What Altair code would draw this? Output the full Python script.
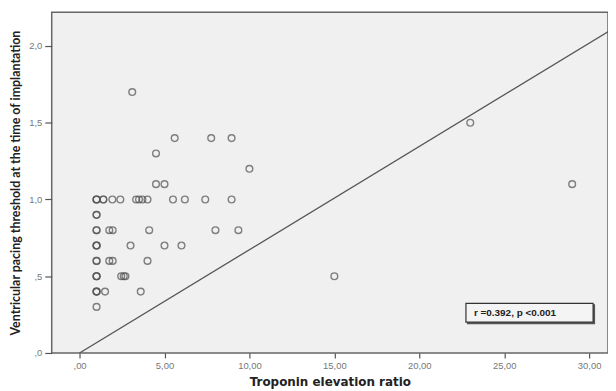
import altair as alt
import pandas as pd

# Troponin elevation ratio (x) and ventricular pacing threshold (y)
x_vals = [1.0, 1.0, 1.0, 1.0, 1.0, 1.0, 1.0, 1.0, 1.0, 1.0, 1.0, 1.0, 1.0, 1.0, 1.0, 1.0, 1.0, 1.0, 1.0,
          1.4, 1.4, 1.93, 2.4, 3.33, 3.5, 3.7, 4.0, 5.5, 6.2, 7.4, 8.95,
          1.75, 1.95, 4.1, 8.0, 9.35,
          3.0, 5.0, 6.0,
          1.75, 1.95, 4.0,
          2.45, 2.6, 2.7, 15.0,
          1.5, 3.6,
          4.5, 5.0, 4.5, 3.1,
          5.6, 7.75, 8.95, 10.0,
          23.0, 29.0]
y_vals = [1.0, 1.0, 1.0, 0.9, 0.9, 0.8, 0.8, 0.7, 0.7, 0.7, 0.6, 0.6, 0.5, 0.5, 0.5, 0.4, 0.4, 0.4, 0.3,
          1.0, 1.0, 1.0, 1.0, 1.0, 1.0, 1.0, 1.0, 1.0, 1.0, 1.0, 1.0,
          0.8, 0.8, 0.8, 0.8, 0.8,
          0.7, 0.7, 0.7,
          0.6, 0.6, 0.6,
          0.5, 0.5, 0.5, 0.5,
          0.4, 0.4,
          1.1, 1.1, 1.3, 1.7,
          1.4, 1.4, 1.4, 1.2,
          1.5, 1.1]

# reference line
line_x = [0.0, 31.4]
line_y = [0.0, 2.113]

x_ticks = [0, 5, 10, 15, 20, 25, 30]
y_ticks = [0, 0.5, 1.0, 1.5, 2.0]
x_title = "Troponin elevation ratio"
y_title = "Ventricular pacing threshold at the time of implantation"
annotation = "r =0.392, p <0.001"

pts = pd.DataFrame({"x": x_vals, "y": y_vals})
ln = pd.DataFrame({"x": line_x, "y": line_y})
ann = pd.DataFrame({"label": [annotation]})

xscale = alt.Scale(domain=[-1.64, 31.11], nice=False, zero=False)
yscale = alt.Scale(domain=[0, 2.22], nice=False, zero=False)

xaxis = alt.Axis(
    title=x_title, values=x_ticks,
    labelExpr="datum.value == 0 ? ',00' : replace(format(datum.value, '.2f'), '.', ',')",
    grid=False, domain=False, tickSize=5, tickColor="#555", tickWidth=1.2,
    labelPadding=3, labelFont="Liberation Sans", labelFontSize=9.5, labelColor="#777",
    titleFont="DejaVu Sans", titleFontWeight="bold", titleFontSize=12, titleColor="#222",
    titleBaseline="alphabetic", titleY=33,
)
yaxis = alt.Axis(
    title=y_title, values=y_ticks,
    labelExpr="datum.value < 1 ? replace(format(datum.value, '.1f'), '0.', ',') : replace(format(datum.value, '.1f'), '.', ',')",
    grid=False, domain=False, tickSize=7, tickColor="#555", tickWidth=1.2,
    labelPadding=3, labelFont="Liberation Sans", labelFontSize=9.5, labelColor="#777",
    titleFont="Lato", titleFontWeight="bold", titleFontSize=12.5, titleColor="#222",
    titleAngle=-90, titleBaseline="bottom", titleX=-29, titleY=171.5, titleAlign="center",
)

points = alt.Chart(pts).mark_point(
    shape="circle", filled=False, size=46, stroke="#555", strokeWidth=1.4, opacity=0.72
).encode(
    x=alt.X("x:Q", scale=xscale, axis=xaxis),
    y=alt.Y("y:Q", scale=yscale, axis=yaxis),
)

line = alt.Chart(ln).mark_line(color="#555", strokeWidth=1.3, clip=True).encode(
    x=alt.X("x:Q", scale=xscale),
    y=alt.Y("y:Q", scale=yscale),
)

shadow = alt.Chart(ann).mark_rect(fill="#555").encode(
    x=alt.value(418), x2=alt.value(547), y=alt.value(294), y2=alt.value(314)
)
box = alt.Chart(ann).mark_rect(fill="#f4f4f4", stroke="#333", strokeWidth=1.2).encode(
    x=alt.value(417), x2=alt.value(545), y=alt.value(293), y2=alt.value(312)
)
txt = alt.Chart(ann).mark_text(
    align="left", baseline="middle", font="Liberation Sans", fontWeight="bold",
    fontSize=10, color="#222"
).encode(x=alt.value(425), y=alt.value(302.5), text="label:N")

chart = alt.layer(line, points, shadow, box, txt).properties(
    width=560, height=343,
    padding={"left": 44, "top": 3, "right": 0, "bottom": 37},
    autosize=alt.AutoSizeParams(type="none"),
    background="white",
).configure_view(
    fill="#f0f0f0", stroke="#666", strokeWidth=1.5
)

chart.save("out.html", embed_options={"renderer": "svg", "actions": False})
